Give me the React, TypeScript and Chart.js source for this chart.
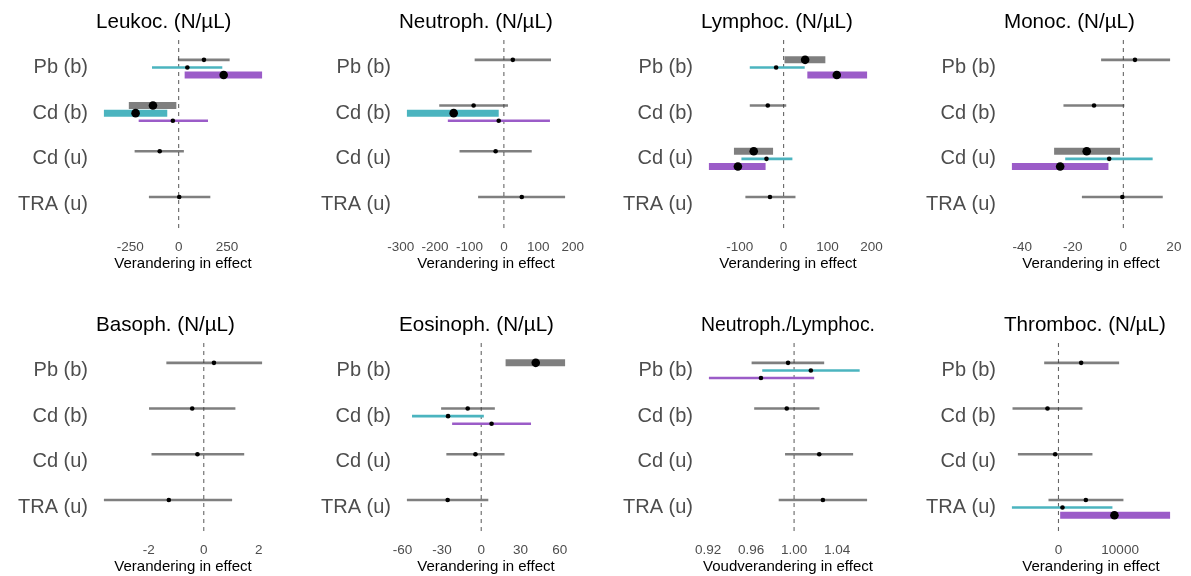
import React, { useEffect, useRef } from 'react';
import { Chart, registerables } from 'chart.js';

Chart.register(...registerables);
Chart.defaults.font.family = "'Liberation Sans', Arial, sans-serif";

// Each row: [estimate, lower bound, upper bound]; null = not estimated for that exposure.
type Row = [number, number, number] | null;

const CATEGORIES = ['Pb (b)', 'Cd (b)', 'Cd (u)', 'TRA (u)'];

const LEUKOC_GREY: Row[] = [[131, -4, 264], [-133, -258, -12], [-98, -228, 27], [3, -154, 164]];
const LEUKOC_TEAL: Row[] = [[45, -138, 226], [-223, -387, -59], null, null];
const LEUKOC_PURPLE: Row[] = [[233, 31, 432], [-30, -207, 152], null, null];
const LEUKOC_TICKS = [-250, 0, 250];

const NEUTRO_GREY: Row[] = [[26, -85, 137], [-88, -188, 12], [-24, -129, 81], [52, -75, 178]];
const NEUTRO_TEAL: Row[] = [null, [-146, -282, -15], null, null];
const NEUTRO_PURPLE: Row[] = [null, [-15, -163, 134], null, null];
const NEUTRO_TICKS = [-300, -200, -100, 0, 100, 200];

const LYMPHO_GREY: Row[] = [[49, 2, 95], [-36, -77, 6], [-68, -113, -24], [-31, -87, 27]];
const LYMPHO_TEAL: Row[] = [[-17, -77, 48], null, [-39, -96, 20], null];
const LYMPHO_PURPLE: Row[] = [[121, 54, 190], null, [-104, -170, -41], null];
const LYMPHO_TICKS = [-100, 0, 100, 200];

const MONO_GREY: Row[] = [[4.6, -8.8, 18.5], [-11.6, -23.7, 0.4], [-14.5, -27.4, -1.3], [-0.4, -16.4, 15.6]];
const MONO_TEAL: Row[] = [null, null, [-5.6, -23, 11.6], null];
const MONO_PURPLE: Row[] = [null, null, [-25, -44.1, -5.9], null];
const MONO_TICKS = [-40, -20, 0, 20];

const BASO_GREY: Row[] = [[0.37, -1.36, 2.12], [-0.42, -1.99, 1.15], [-0.23, -1.9, 1.47], [-1.27, -3.63, 1.03]];
const BASO_TEAL: Row[] = [null, null, null, null];
const BASO_PURPLE: Row[] = [null, null, null, null];
const BASO_TICKS = [-2, 0, 2];

const EOSINO_GREY: Row[] = [[41.6, 18.6, 64], [-10.3, -30.6, 10.4], [-4.4, -26.6, 17.8], [-25.6, -56.7, 5.4]];
const EOSINO_TEAL: Row[] = [null, [-25.3, -52.8, 2.0], null, null];
const EOSINO_PURPLE: Row[] = [null, [7.9, -22.2, 38], null, null];
const EOSINO_TICKS = [-60, -30, 0, 30, 60];

const NLR_GREY: Row[] = [[0.9944, 0.9605, 1.028], [0.9932, 0.9629, 1.0236], [1.0234, 0.9916, 1.0549], [1.0268, 0.9857, 1.0679]];
const NLR_TEAL: Row[] = [[1.0156, 0.9704, 1.061], null, null, null];
const NLR_PURPLE: Row[] = [[0.9692, 0.9208, 1.0187], null, null, null];
const NLR_TICKS = [0.92, 0.96, 1.0, 1.04];

const THROMBO_GREY: Row[] = [[3679, -2318, 9838], [-1783, -7455, 3890], [-535, -6580, 5510], [4440, -1620, 10535]];
const THROMBO_TEAL: Row[] = [null, null, null, [648, -7553, 8752]];
const THROMBO_PURPLE: Row[] = [null, null, null, [9076, 276, 18104]];
const THROMBO_TICKS = [0, 10000];

// Series styling (grey, teal, purple) and vertical dodge within a category.
const SERIES_COLORS = ['rgba(60,60,60,0.66)', '#4bb4bf', '#9b5cc8'];
const DODGE = [-1 / 6, 0, 1 / 6];
const Y_MIN = -0.6;
const Y_MAX = 3.6;

interface PanelDef {
  title: string;
  xTitle: string;
  ref: number;
  digits: number;
  ticks: number[];
  series: Row[][];
}

const PANELS: PanelDef[] = [
  { title: 'Leukoc. (N/µL)', xTitle: 'Verandering in effect', ref: 0, digits: 0, ticks: LEUKOC_TICKS, series: [LEUKOC_GREY, LEUKOC_TEAL, LEUKOC_PURPLE] },
  { title: 'Neutroph. (N/µL)', xTitle: 'Verandering in effect', ref: 0, digits: 0, ticks: NEUTRO_TICKS, series: [NEUTRO_GREY, NEUTRO_TEAL, NEUTRO_PURPLE] },
  { title: 'Lymphoc. (N/µL)', xTitle: 'Verandering in effect', ref: 0, digits: 0, ticks: LYMPHO_TICKS, series: [LYMPHO_GREY, LYMPHO_TEAL, LYMPHO_PURPLE] },
  { title: 'Monoc. (N/µL)', xTitle: 'Verandering in effect', ref: 0, digits: 0, ticks: MONO_TICKS, series: [MONO_GREY, MONO_TEAL, MONO_PURPLE] },
  { title: 'Basoph. (N/µL)', xTitle: 'Verandering in effect', ref: 0, digits: 0, ticks: BASO_TICKS, series: [BASO_GREY, BASO_TEAL, BASO_PURPLE] },
  { title: 'Eosinoph. (N/µL)', xTitle: 'Verandering in effect', ref: 0, digits: 0, ticks: EOSINO_TICKS, series: [EOSINO_GREY, EOSINO_TEAL, EOSINO_PURPLE] },
  { title: 'Neutroph./Lymphoc.', xTitle: 'Voudverandering in effect', ref: 1, digits: 2, ticks: NLR_TICKS, series: [NLR_GREY, NLR_TEAL, NLR_PURPLE] },
  { title: 'Thromboc. (N/µL)', xTitle: 'Verandering in effect', ref: 0, digits: 0, ticks: THROMBO_TICKS, series: [THROMBO_GREY, THROMBO_TEAL, THROMBO_PURPLE] },
];

// Grid geometry (pixels).
const PLOT_LEFTS = [96, 399, 701, 1004];
const ROW_TOPS = [0, 303];
const Y_AXIS_W = 96;
const PLOT_W = 174;
const PAD_R = 16;
const TITLE_H = 40;
const PLOT_H = 192;
const X_AXIS_H = 41;
const CANVAS_W = Y_AXIS_W + PLOT_W + PAD_R;
const CANVAS_H = TITLE_H + PLOT_H + X_AXIS_H;

function buildConfig(p: PanelDef): any {
  const datasets: any[] = [];
  // reference line (no effect)
  datasets.push({
    type: 'line',
    data: [{ x: p.ref, y: Y_MIN }, { x: p.ref, y: Y_MAX }],
    borderColor: '#666',
    borderWidth: 1.1,
    borderDash: [4, 4],
    pointRadius: 0,
    order: 5,
  });
  const small: any[] = [];
  const big: any[] = [];
  let lo = Infinity;
  let hi = -Infinity;
  p.series.forEach((rows, s) => {
    rows.forEach((row, i) => {
      if (!row) return;
      const [est, low, high] = row;
      lo = Math.min(lo, low);
      hi = Math.max(hi, high);
      const sig = low > p.ref || high < p.ref;
      const y = i + DODGE[s];
      datasets.push({
        type: 'line',
        data: [{ x: low, y }, { x: high, y }],
        borderColor: SERIES_COLORS[s],
        borderWidth: sig ? 7 : 2.6,
        borderCapStyle: 'butt',
        pointRadius: 0,
        order: 4 - s * 0.1,
      });
      (sig ? big : small).push({ x: est, y });
    });
  });
  datasets.push({ type: 'line', data: small, showLine: false, pointRadius: 2.3, pointBorderWidth: 0, pointBackgroundColor: '#000', order: 2 });
  datasets.push({ type: 'line', data: big, showLine: false, pointRadius: 4.3, pointBorderWidth: 0, pointBackgroundColor: '#000', order: 1 });

  const pad = (hi - lo) * 0.05;

  return {
    type: 'line',
    data: { datasets },
    options: {
      animation: false,
      responsive: false,
      devicePixelRatio: 1,
      events: [],
      layout: { padding: { left: 0, right: PAD_R, top: 0, bottom: 0 } },
      plugins: {
        legend: { display: false },
        tooltip: { enabled: false },
        title: {
          display: true,
          text: p.title,
          align: 'start',
          fullSize: false,
          color: '#000',
          font: { size: 20.6, weight: 'normal', lineHeight: 1.2 },
          padding: { top: 10, bottom: 5.3 },
        },
      },
      scales: {
        x: {
          type: 'linear',
          min: lo - pad,
          max: hi + pad,
          grid: { display: false, drawTicks: false },
          border: { display: false },
          afterBuildTicks: (s: any) => {
            s.ticks = p.ticks.map((v) => ({ value: v }));
          },
          afterFit: (s: any) => {
            s.height = X_AXIS_H;
            s.paddingLeft = 0;
            s.paddingRight = 0;
          },
          ticks: {
            autoSkip: false,
            maxRotation: 0,
            padding: 7.5,
            color: '#4d4d4d',
            font: { size: 13.5 },
            callback: (v: number) => (p.digits ? Number(v).toFixed(p.digits) : String(v)),
          },
          title: { display: true, text: p.xTitle, color: '#000', font: { size: 15 }, padding: 0 },
        },
        y: {
          type: 'linear',
          reverse: true,
          min: Y_MIN,
          max: Y_MAX,
          grid: { display: false, drawTicks: false },
          border: { display: false },
          afterBuildTicks: (s: any) => {
            s.ticks = CATEGORIES.map((_, i) => ({ value: i }));
          },
          afterFit: (s: any) => {
            s.width = Y_AXIS_W;
            s.paddingTop = 0;
            s.paddingBottom = 0;
          },
          ticks: {
            autoSkip: false,
            padding: 8,
            color: '#4d4d4d',
            font: { size: 20 },
            callback: (v: number) => CATEGORIES[Math.round(v)] ?? '',
          },
        },
      },
    },
  };
}

function ForestPanel({ panel, left, top }: { panel: PanelDef; left: number; top: number }) {
  const canvasRef = useRef<HTMLCanvasElement>(null);
  useEffect(() => {
    if (!canvasRef.current) return;
    const chart = new Chart(canvasRef.current, buildConfig(panel));
    return () => chart.destroy();
  }, [panel]);
  return (
    <canvas
      ref={canvasRef}
      width={CANVAS_W}
      height={CANVAS_H}
      style={{ position: 'absolute', left, top, width: CANVAS_W, height: CANVAS_H }}
    />
  );
}

export default function App() {
  return (
    <div
      style={{
        position: 'fixed',
        left: 0,
        top: 0,
        width: 1191,
        height: 576,
        background: '#fff',
        overflow: 'hidden',
      }}
    >
      {PANELS.map((p, k) => {
        const col = k % 4;
        const row = Math.floor(k / 4);
        return <ForestPanel key={p.title} panel={p} left={PLOT_LEFTS[col] - Y_AXIS_W} top={ROW_TOPS[row]} />;
      })}
    </div>
  );
}
